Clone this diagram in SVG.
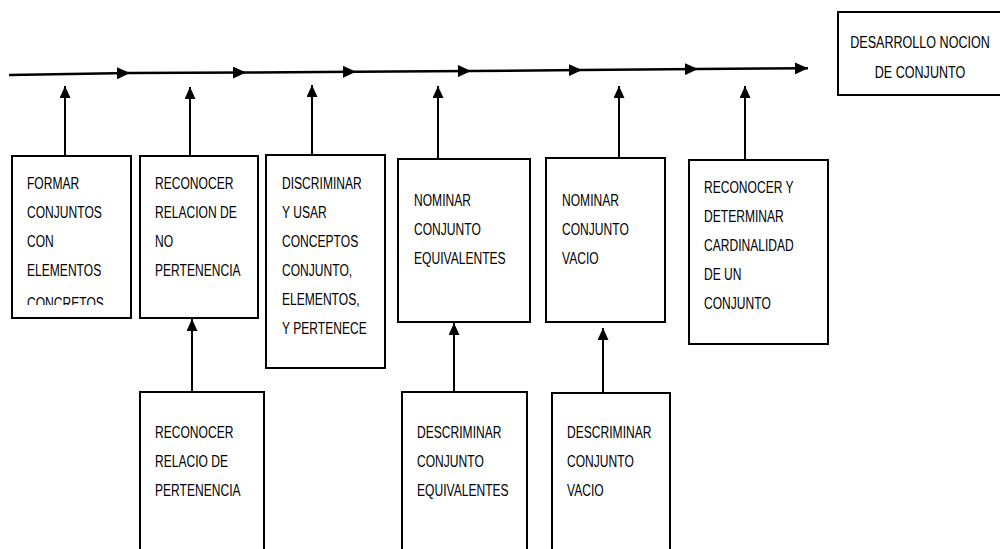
<svg xmlns="http://www.w3.org/2000/svg" width="1000" height="549" viewBox="0 0 1000 549">
  <style>
    .box { fill: #ffffff; stroke: #000000; stroke-width: 2; }
    .lbl { font-family: "Liberation Sans", Arial, sans-serif; font-size: 17px; fill: #000000; }
    .main { fill: none; stroke: #000000; stroke-width: 2.5; marker-end: url(#headR); }
    .up { fill: none; stroke: #000000; stroke-width: 2; marker-end: url(#headU); }
  </style>
  <defs>
    <marker id="headR" viewBox="0 0 12 12" refX="12" refY="6" markerWidth="13" markerHeight="12" markerUnits="userSpaceOnUse" orient="auto" preserveAspectRatio="none">
      <path d="M0,0 L12,6 L0,12 Z" fill="#000000"/>
    </marker>
    <marker id="headU" viewBox="0 0 12 12" refX="12" refY="6" markerWidth="12" markerHeight="11" markerUnits="userSpaceOnUse" orient="auto" preserveAspectRatio="none">
      <path d="M0,0 L12,6 L0,12 Z" fill="#000000"/>
    </marker>
    <clipPath id="clipFormar">
      <rect x="12" y="156" width="119" height="149"/>
    </clipPath>
  </defs>
  <rect width="1000" height="549" fill="#ffffff"/>

  <!-- connectors -->
  <g id="connectors">
    <!-- timeline -->
    <path class="main" d="M9,75 L130,73"/>
    <path class="main" d="M130,73 L246,72.5"/>
    <path class="main" d="M246,72.5 L356,71.7"/>
    <path class="main" d="M356,71.7 L471,71"/>
    <path class="main" d="M471,71 L582,70"/>
    <path class="main" d="M582,70 L698,69"/>
    <path class="main" d="M698,69 L808,68.3"/>
    <!-- boxes up to timeline -->
    <path class="up" d="M65,156 L65,86"/>
    <path class="up" d="M190,156 L190,87"/>
    <path class="up" d="M312,155 L312,85"/>
    <path class="up" d="M438,159 L438,86"/>
    <path class="up" d="M619,158 L619,86"/>
    <path class="up" d="M745,160 L745,86"/>
    <!-- lower boxes up to upper boxes -->
    <path class="up" d="M192,392 L192,319"/>
    <path class="up" d="M454,392 L454,323"/>
    <path class="up" d="M603,393 L603,328"/>
  </g>

  <g id="goal">
    <rect class="box" x="838" y="12" width="170" height="83"/>
    <text class="lbl" transform="translate(920,48) scale(0.74,1)" text-anchor="middle">DESARROLLO NOCION</text>
    <text class="lbl" transform="translate(920,78) scale(0.74,1)" text-anchor="middle">DE CONJUNTO</text>
  </g>

  <g id="formar">
    <rect class="box" x="12" y="156" width="119" height="162"/>
    <g clip-path="url(#clipFormar)">
      <text class="lbl" transform="translate(27,189) scale(0.71,1)">FORMAR</text>
      <text class="lbl" transform="translate(27,218) scale(0.71,1)">CONJUNTOS</text>
      <text class="lbl" transform="translate(27,247) scale(0.71,1)">CON</text>
      <text class="lbl" transform="translate(27,276) scale(0.71,1)">ELEMENTOS</text>
      <text class="lbl" transform="translate(27,309) scale(0.71,1)">CONCRETOS</text>
    </g>
  </g>

  <g id="no-pertenencia">
    <rect class="box" x="140" y="156" width="118" height="162"/>
    <text class="lbl" transform="translate(155,189) scale(0.71,1)">RECONOCER</text>
    <text class="lbl" transform="translate(155,218) scale(0.71,1)">RELACION DE</text>
    <text class="lbl" transform="translate(155,247) scale(0.71,1)">NO</text>
    <text class="lbl" transform="translate(155,276) scale(0.71,1)">PERTENENCIA</text>
  </g>

  <g id="discriminar">
    <rect class="box" x="266" y="155" width="119" height="213"/>
    <text class="lbl" transform="translate(282,189) scale(0.71,1)">DISCRIMINAR</text>
    <text class="lbl" transform="translate(282,218) scale(0.71,1)">Y USAR</text>
    <text class="lbl" transform="translate(282,247) scale(0.71,1)">CONCEPTOS</text>
    <text class="lbl" transform="translate(282,276) scale(0.71,1)">CONJUNTO,</text>
    <text class="lbl" transform="translate(282,305) scale(0.71,1)">ELEMENTOS,</text>
    <text class="lbl" transform="translate(282,334) scale(0.71,1)">Y PERTENECE</text>
  </g>

  <g id="nominar-equivalentes">
    <rect class="box" x="398" y="159" width="132" height="163"/>
    <text class="lbl" transform="translate(414,206) scale(0.71,1)">NOMINAR</text>
    <text class="lbl" transform="translate(414,235) scale(0.71,1)">CONJUNTO</text>
    <text class="lbl" transform="translate(414,264) scale(0.71,1)">EQUIVALENTES</text>
  </g>

  <g id="nominar-vacio">
    <rect class="box" x="546" y="158" width="119" height="164"/>
    <text class="lbl" transform="translate(562,206) scale(0.71,1)">NOMINAR</text>
    <text class="lbl" transform="translate(562,235) scale(0.71,1)">CONJUNTO</text>
    <text class="lbl" transform="translate(562,264) scale(0.71,1)">VACIO</text>
  </g>

  <g id="cardinalidad">
    <rect class="box" x="689" y="160" width="139" height="184"/>
    <text class="lbl" transform="translate(704,193) scale(0.71,1)">RECONOCER Y</text>
    <text class="lbl" transform="translate(704,222) scale(0.71,1)">DETERMINAR</text>
    <text class="lbl" transform="translate(704,251) scale(0.71,1)">CARDINALIDAD</text>
    <text class="lbl" transform="translate(704,280) scale(0.71,1)">DE UN</text>
    <text class="lbl" transform="translate(704,309) scale(0.71,1)">CONJUNTO</text>
  </g>

  <g id="pertenencia">
    <rect class="box" x="140" y="392" width="124" height="170"/>
    <text class="lbl" transform="translate(155,438) scale(0.71,1)">RECONOCER</text>
    <text class="lbl" transform="translate(155,467) scale(0.71,1)">RELACIO DE</text>
    <text class="lbl" transform="translate(155,496) scale(0.71,1)">PERTENENCIA</text>
  </g>

  <g id="descriminar-equivalentes">
    <rect class="box" x="402" y="392" width="125" height="170"/>
    <text class="lbl" transform="translate(417,438) scale(0.71,1)">DESCRIMINAR</text>
    <text class="lbl" transform="translate(417,467) scale(0.71,1)">CONJUNTO</text>
    <text class="lbl" transform="translate(417,496) scale(0.71,1)">EQUIVALENTES</text>
  </g>

  <g id="descriminar-vacio">
    <rect class="box" x="552" y="393" width="118" height="170"/>
    <text class="lbl" transform="translate(567,438) scale(0.71,1)">DESCRIMINAR</text>
    <text class="lbl" transform="translate(567,467) scale(0.71,1)">CONJUNTO</text>
    <text class="lbl" transform="translate(567,496) scale(0.71,1)">VACIO</text>
  </g>
</svg>
